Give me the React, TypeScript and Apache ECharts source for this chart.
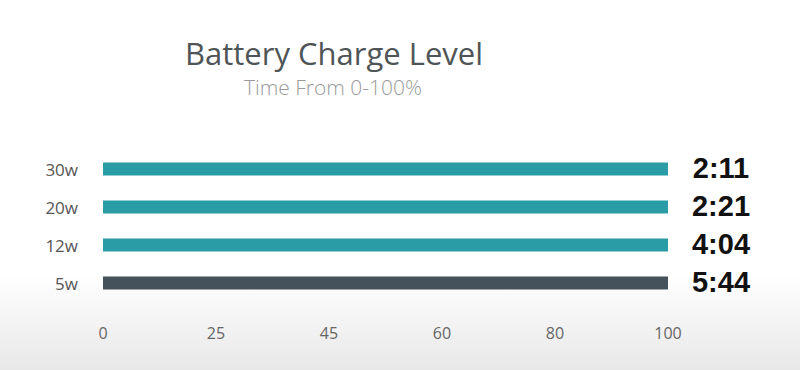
import React, { useEffect, useRef } from "react";
import * as echarts from "echarts";

const categories = ["5w", "12w", "20w", "30w"];
const chargePercent = [100, 100, 100, 100];
const chargeTimes = ["5:44", "4:04", "2:21", "2:11"];
const barColors = ["#45525b", "#2a9ca6", "#2a9ca6", "#2a9ca6"];
const xTickLabels = ["0", "25", "45", "60", "80", "100"];

export default function App() {
  const ref = useRef<HTMLDivElement>(null);
  useEffect(() => {
    if (!ref.current) return;
    const chart = echarts.init(ref.current, undefined, { renderer: "svg" });
    chart.setOption({
      animation: false,
      backgroundColor: new echarts.graphic.LinearGradient(0, 0, 0, 1, [
        { offset: 0, color: "#ffffff" },
        { offset: 0.74, color: "#ffffff" },
        { offset: 1, color: "#e8e8e8" },
      ]),
      title: [
        {
          text: "Battery Charge Level",
          left: 334,
          top: 36,
          textAlign: "center",
          padding: 0,
          textStyle: {
            fontFamily: "Open Sans",
            fontWeight: 400,
            fontSize: 31,
            lineHeight: 34,
            color: "#4f5557",
          },
        },
        {
          text: "Time From 0-100%",
          left: 333,
          top: 76,
          textAlign: "center",
          padding: 0,
          textStyle: {
            fontFamily: "Open Sans",
            fontWeight: 300,
            fontSize: 21,
            lineHeight: 22,
            color: "#9a9a9a",
          },
        },
      ],
      grid: { left: 103, right: 132, top: 150, bottom: 68 },
      xAxis: {
        type: "value",
        min: 0,
        max: 100,
        interval: 20,
        axisLine: { show: false },
        axisTick: { show: false },
        splitLine: { show: false },
        axisLabel: {
          margin: 23,
          fontFamily: "Open Sans",
          fontSize: 16,
          color: "#666",
          formatter: (v: number) => xTickLabels[Math.round(v / 20)] ?? "",
        },
      },
      yAxis: {
        type: "category",
        data: categories,
        axisLine: { show: false },
        axisTick: { show: false },
        axisLabel: {
          margin: 25,
          fontFamily: "Open Sans",
          fontSize: 17,
          color: "#555",
        },
      },
      series: [
        {
          type: "bar",
          barWidth: 13,
          data: chargePercent.map((v, i) => ({
            value: v,
            itemStyle: { color: barColors[i] },
          })),
          label: {
            show: true,
            position: "right",
            distance: 53,
            align: "center",
            offset: [0, -1],
            formatter: (p: any) => chargeTimes[p.dataIndex],
            fontFamily: "Liberation Sans",
            fontWeight: "bold",
            fontSize: 29,
            color: "#111",
          },
        },
      ],
    });
    return () => chart.dispose();
  }, []);
  return (
    <div
      ref={ref}
      style={{ position: "fixed", left: 0, top: 0, width: 800, height: 370 }}
    />
  );
}
